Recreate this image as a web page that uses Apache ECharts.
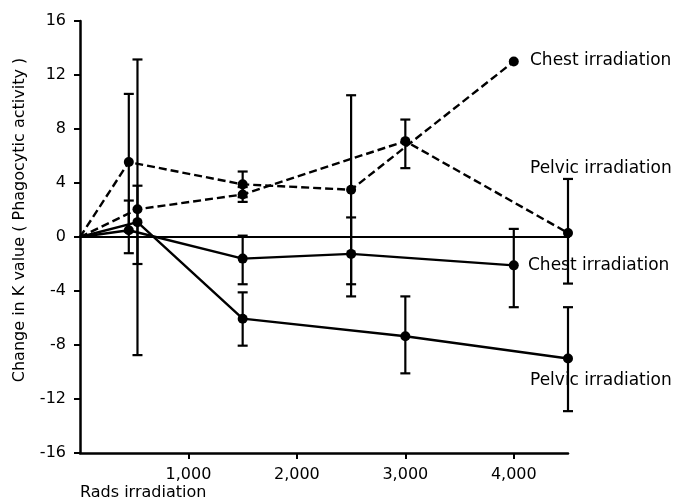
<!DOCTYPE html>
<html>
<head>
<meta charset="utf-8">
<script src="https://cdn.jsdelivr.net/npm/echarts@6/dist/echarts.min.js"></script>
<style>html,body{margin:0;padding:0;background:#fff}#c{width:690px;height:503px}</style>
</head>
<body>
<div id="c"></div>
<script>
// Data
var chestX = [0, 450, 1500, 2500, 4000];
var pelvicX = [0, 530, 1500, 3000, 4500];
var chestDashedY = [0, 5.55, 3.9, 3.5, 13.0];
var pelvicDashedY = [0, 2.05, 3.15, 7.1, 0.3];
var chestSolidY = [0, 0.5, -1.6, -1.25, -2.1];
var pelvicSolidY = [0, 1.1, -6.05, -7.35, -9.0];
// error ranges [low, high]
var chestDashedErr = [null, [0.4, 10.6], [2.95, 4.85], [-3.5, 10.5], null];
var pelvicDashedErr = [null, [-8.75, 13.15], [2.6, 3.7], [5.1, 8.7], [-3.45, 4.3]];
var chestSolidErr = [null, [-1.2, 2.7], [-3.5, 0.1], [-4.4, 1.45], [-5.2, 0.6]];
var pelvicSolidErr = [null, [-2.0, 3.8], [-8.05, -4.1], [-10.1, -4.4], [-12.9, -5.2]];
var xTicks = [1000, 2000, 3000, 4000];
var xTickLabels = ['1,000', '2,000', '3,000', '4,000'];
var zeroLine = [[0, 0], [4660, 0]];

var FONT = 'DejaVu Sans';
function pairs(xs, ys) { return xs.map(function (x, i) { return [x, ys[i]]; }); }
function errData(xs, errs) {
  var out = [];
  xs.forEach(function (x, i) { if (errs[i]) out.push([x, errs[i][0], errs[i][1]]); });
  return out;
}
var allErr = [].concat(errData(chestX, chestDashedErr), errData(pelvicX, pelvicDashedErr),
  errData(chestX, chestSolidErr), errData(pelvicX, pelvicSolidErr));

function renderErr(params, api) {
  var x = api.value(0);
  var lo = api.coord([x, api.value(1)]);
  var hi = api.coord([x, api.value(2)]);
  var w = 5;
  var st = { stroke: '#000', lineWidth: 2.2 };
  return {
    type: 'group',
    children: [
      { type: 'line', shape: { x1: lo[0], y1: lo[1], x2: hi[0], y2: hi[1] }, style: st },
      { type: 'line', shape: { x1: lo[0] - w, y1: lo[1], x2: lo[0] + w, y2: lo[1] }, style: st },
      { type: 'line', shape: { x1: hi[0] - w, y1: hi[1], x2: hi[0] + w, y2: hi[1] }, style: st }
    ]
  };
}

function lineSeries(name, xs, ys, dashed) {
  return {
    name: name, type: 'line', data: pairs(xs, ys),
    symbol: function (v, p) { return p.dataIndex === 0 ? 'none' : 'circle'; },
    symbolSize: 10, showSymbol: true,
    itemStyle: { color: '#000' },
    lineStyle: { color: '#000', width: 2.4, type: dashed ? [8, 4] : 'solid' },
    z: 5, animation: false
  };
}

var chart = echarts.init(document.getElementById('c'));
chart.setOption({
  animation: false,
  grid: { left: 80, right: 122, top: 21, bottom: 50 },
  xAxis: {
    type: 'value', min: 0, max: 4500, interval: 1000,
    axisLine: { onZero: false, lineStyle: { color: '#000', width: 2.5 } },
    axisTick: { show: true, length: 6, lineStyle: { color: '#000', width: 2 }, customValues: xTicks },
    axisLabel: {
      customValues: xTicks, margin: 14, color: '#000', fontFamily: FONT, fontSize: 16,
      formatter: function (v) { var i = xTicks.indexOf(v); return i >= 0 ? xTickLabels[i] : ''; }
    },
    splitLine: { show: false }
  },
  yAxis: {
    type: 'value', min: -16, max: 16, interval: 4,
    axisLine: { show: true, lineStyle: { color: '#000', width: 2.5 } },
    axisTick: { show: true, length: 6, lineStyle: { color: '#000', width: 2 } },
    axisLabel: { margin: 14, color: '#000', fontFamily: FONT, fontSize: 16 },
    splitLine: { show: false }
  },
  graphic: [
    { type: 'text', left: 80, top: 485, style: { text: 'Rads irradiation', font: '16px "DejaVu Sans"', fill: '#000' } },
    { type: 'text', x: 20, y: 220, rotation: Math.PI / 2, style: { text: 'Change in K value ( Phagocytic activity )', font: '16px "DejaVu Sans"', fill: '#000', align: 'center', verticalAlign: 'middle' } },
    { type: 'text', x: 530, y: 61, style: { text: 'Chest irradiation', font: '17px "DejaVu Sans"', fill: '#000', verticalAlign: 'middle' } },
    { type: 'text', x: 530, y: 169, style: { text: 'Pelvic irradiation', font: '17px "DejaVu Sans"', fill: '#000', verticalAlign: 'middle' } },
    { type: 'text', x: 528, y: 266, style: { text: 'Chest irradiation', font: '17px "DejaVu Sans"', fill: '#000', verticalAlign: 'middle' } },
    { type: 'text', x: 530, y: 381, style: { text: 'Pelvic irradiation', font: '17px "DejaVu Sans"', fill: '#000', verticalAlign: 'middle' } }
  ],
  series: [
    { type: 'line', data: zeroLine, symbol: 'none', clip: false, lineStyle: { color: '#000', width: 2.2 }, z: 1, silent: true },
    { type: 'custom', data: allErr, renderItem: renderErr, encode: { x: 0, y: [1, 2] }, z: 3, clip: false },
    lineSeries('Chest irradiation (dashed)', chestX, chestDashedY, true),
    lineSeries('Pelvic irradiation (dashed)', pelvicX, pelvicDashedY, true),
    lineSeries('Chest irradiation', chestX, chestSolidY, false),
    lineSeries('Pelvic irradiation', pelvicX, pelvicSolidY, false)
  ]
});
</script>
</body>
</html>
